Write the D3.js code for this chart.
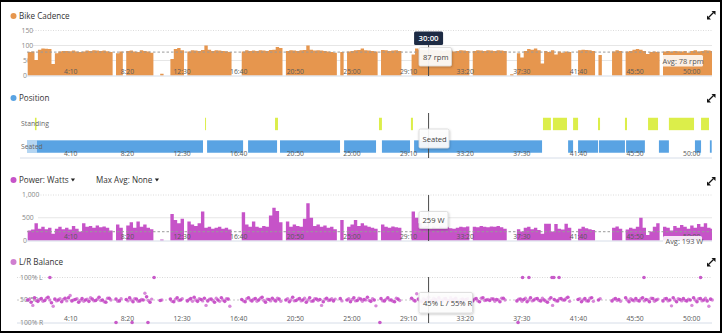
<!DOCTYPE html>
<html><head><meta charset="utf-8">
<script src="https://cdn.jsdelivr.net/npm/d3@7"></script>
<style>body{margin:0;background:#fff}svg{display:block}</style>
</head><body>
<svg id="c" width="722" height="333"></svg>
<script>
// ---------- DATA ----------
const sampleStart = 30, sampleStep = 15;          // seconds
const timeTicks = [250,500,750,1000,1250,1500,1750,2000,2250,2500,2750,3000];
const cadenceTicks = [0,50,100,150];
const powerTicks = [0,500,1000];
const balanceTickValues = [100,50,0];
const balanceTickLabels = ["100% L","50/50","100% R"];
const avgCadence = 78, avgPower = 193;
const cursorTime = 1800, cursorCadence = 87, cursorPower = 259, cursorPosition = "Seated", cursorLeft = 45;

const cadence = [
78,80,52,86,90,89,88,38,74,80, 82,82,81,83,80,78,80,83,82,84,
83,82,83,81,78,0,74,80,0,82, 83,80,78,84,82,80,76,0,0,6,
0,0,55,88,92,84,0,80,84,83, 82,85,100,86,82,84,83,82,81,78,
0,0,0,80,84,82,83,82,84,83, 82,85,86,95,92,0,82,84,83,82,
84,85,100,86,83,84,83,82,80,78, 76,0,78,0,80,82,84,85,90,84,
83,82,80,0,85,84,82,83,84,82, 0,0,0,70,90,86,85,84,87,85,
84,83,82,84,83,80,82,84,83,82, 0,82,84,83,82,84,83,82,84,83,
82,0,4,0,74,60,82,88,86,90, 84,40,82,78,84,70,80,76,80,78,
0,0,84,86,85,84,82,0,68,0, 0,0,80,84,82,0,80,82,86,88,
86,82,72,78,80,78,0,80,82,80, 82,81,80,82,76,82,84,80,82,84,
83,82];

const power = [
220,240,380,260,300,250,280,150,260,300, 250,280,240,320,260,200,380,300,320,280,
330,290,310,280,220,0,350,280,0,330, 400,280,420,300,350,280,250,0,0,20,
0,0,580,450,380,480,0,420,350,320, 380,640,280,300,260,280,300,260,280,240,
0,0,0,620,350,300,420,300,280,320, 300,550,720,650,400,0,420,300,350,320,
300,480,820,500,320,350,300,330,280,300, 250,0,450,0,300,350,450,320,380,330,
300,280,260,0,350,300,280,310,290,280, 0,0,0,640,500,380,300,320,260,300,
280,310,290,300,270,260,280,300,290,310, 0,300,290,320,300,290,310,300,320,290,
260,0,0,0,250,200,280,300,250,280, 230,150,370,370,200,360,260,240,370,280,
0,0,260,300,270,250,230,0,0,0, 0,0,280,310,260,0,240,280,260,300,
500,280,120,200,300,380,0,300,280,220, 320,280,340,300,260,330,280,360,300,380,
280,260];

const _ = null;
const balanceA = [
50,45,55,47,53,49,56,44,52,50, 46,54,55,48,51,45,53,50,47,52,
49,56,50,45,54,_,52,48,_,51, 55,46,52,48,50,57,45,_,_,49,
_,_,52,46,55,50,_,48,53,56, 47,51,54,48,52,45,50,55,47,52,
_,_,_,51,46,55,48,53,50,56, 45,51,54,48,52,_,50,46,56,49,
53,50,45,55,48,52,51,46,54,50, 48,_,53,_,50,46,55,49,52,51,
56,47,50,_,53,48,55,50,46,52, _,_,_,54,48,52,46,50,56,49,
51,55,47,53,48,50,54,45,52,51, _,48,53,46,55,50,49,52,51,46,
54,_,_,_,48,52,51,46,55,50, 53,48,50,45,55,51,48,53,50,56,
_,_,51,46,53,48,55,_,50,_, _,_,48,53,51,_,55,46,50,53,
48,55,51,46,53,50,_,48,53,50, 55,46,51,53,48,50,55,46,53,50,
48,52];
const balanceB = [
52,38,49,51,47,54,50,36,48,53, 51,48,60,50,53,49,47,52,55,48,
52,49,46,54,50,_,47,53,_,48, 50,53,47,51,65,49,52,_,_,50,
_,_,47,52,49,53,_,51,47,50, 53,48,38,52,49,54,47,50,53,36,
_,_,_,48,53,50,52,47,54,49, 52,48,50,54,47,_,53,50,48,52,
48,54,50,47,53,49,38,52,49,53, 52,_,48,_,53,51,48,54,47,50,
49,53,37,_,48,52,50,47,54,49, _,_,_,50,64,48,53,50,47,54,
48,50,53,49,55,52,48,51,49,53, _,52,48,54,49,51,53,47,50,54,
50,_,_,_,52,47,54,50,48,53, 49,54,47,52,38,48,53,50,54,47,
_,_,53,50,48,54,47,_,53,_, _,_,52,49,47,_,50,53,48,49,
53,48,50,54,47,52,_,53,48,37, 50,53,48,49,52,38,50,53,48,54,
36,50];
const balanceOutliers = [[128,100],[588,100],[2215,100],[2243,100],[2345,100],[2353,100],[2376,100],[2751,100],[3001,100],
                         [420,0],[491,0],[561,0],[1585,0],[2195,0]];

const seated = [[27,804],[822,981],[1003,1131],[1144,1409],[1427,1568],[1594,1718],[1736,2301],[2416,2438],
                [2460,2548],[2552,2667],[2672,2755],[2817,2861],[2976,3003],[3042,3050]];
const standing = [[62,69],[813,817],[1122,1135],[1581,1594],[1722,1731],[2305,2340],[2349,2411],[2438,2460],
                  [2548,2557],[2667,2676],[2769,2813],[2861,2972],[3003,3038]];

// ---------- SETUP ----------
const FONT = '"Open Sans", "Noto Sans", sans-serif';
const svg = d3.select("#c").style("font-family", FONT);
const x = d3.scaleLinear().domain([0,3050]).range([20.9,711.7]);
const PL = 27, PR = 712;
const C_CAD = "#e6964e", C_BLUE = "#59a3e3", C_YEL = "#dcee4a", C_PWR = "#c653c8", C_BAL = "#c446c4";
const fmt = t => Math.floor(t/60) + ":" + String(t%60).padStart(2,"0");
const toSeries = arr => {
  const s = arr.map((v,i)=>({t: sampleStart + sampleStep*i, v}));
  s.push({t: sampleStart + sampleStep*arr.length, v: arr[arr.length-1]});
  return s;
};

svg.append("defs").append("clipPath").attr("id","plotclip")
  .append("rect").attr("x",PL).attr("y",0).attr("width",PR-PL).attr("height",333);
svg.select("defs").append("filter").attr("id","sh").attr("x","-20%").attr("y","-20%").attr("width","150%").attr("height","160%")
  .append("feDropShadow").attr("dx",0.5).attr("dy",1).attr("stdDeviation",0.8).attr("flood-color","#000").attr("flood-opacity",0.25);

function hline(y, x1, x2, stroke, dash, w) {
  svg.append("line").attr("x1",x1).attr("x2",x2).attr("y1",y).attr("y2",y)
    .attr("stroke",stroke).attr("stroke-width",w||1).attr("stroke-dasharray",dash||null);
}
function title(y, color, txt, xp) {
  if (xp === undefined) svg.append("circle").attr("cx",13.5).attr("cy",y-3).attr("r",3).attr("fill",color);
  return svg.append("text").attr("x",xp===undefined?19:xp).attr("y",y).attr("font-size",8.1).attr("fill","#333").text(txt);
}
function caretAfter(t, y) {
  const b = t.node().getBBox();
  const xp = b.x + b.width + 2;
  svg.append("path").attr("d",`M${xp},${y-4.6}h4.2l-2.1,3z`).attr("fill","#222");
}
function expandIcon(cx, cy) {
  const g = svg.append("g").attr("fill","#111");
  g.append("path").attr("d",`M${cx+0.5},${cy-4}h4v4z`);
  g.append("path").attr("d",`M${cx-4},${cy+0.5}v4h4z`);
  g.append("line").attr("x1",cx-2.5).attr("y1",cy+2.5).attr("x2",cx+2.5).attr("y2",cy-2.5).attr("stroke","#111").attr("stroke-width",1.2);
}
function timeTickLabels(yBase) {
  svg.append("g").selectAll("text").data(timeTicks).join("text")
    .attr("x", d=>x(d)).attr("y", yBase).attr("text-anchor","end")
    .attr("font-size",6.8).attr("fill","#5a5a5a").text(fmt);
}
function yLabel(xp, y, txt) {
  svg.append("text").attr("x",xp).attr("y",y+2.4).attr("font-size",6.8).attr("fill","#888").text(txt);
}
function tooltip(x0, y0, w, h, txt, tx, ty) {
  svg.append("rect").attr("x",x0).attr("y",y0).attr("width",w).attr("height",h).attr("rx",1.5)
    .attr("fill","#fff").attr("fill-opacity",0.9).attr("stroke","#d8d8d8").attr("stroke-width",0.8).attr("filter","url(#sh)");
  svg.append("text").attr("x",tx).attr("y",ty).attr("font-size",7.6).attr("fill","#444").text(txt);
}
function avgLabel(x0, y0, w, h, txt, ty) {
  svg.append("rect").attr("x",x0).attr("y",y0).attr("width",w).attr("height",h).attr("rx",1.5)
    .attr("fill","#fff").attr("fill-opacity",0.85);
  svg.append("text").attr("x",x0+2.5).attr("y",ty).attr("font-size",7.4).attr("fill","#555").text(txt);
}
const cursorX = x(cursorTime);
function cursor(y1, y2) {
  svg.append("line").attr("x1",cursorX).attr("x2",cursorX).attr("y1",y1).attr("y2",y2).attr("stroke","#4a4a4a").attr("stroke-width",1);
}

// ---------- CADENCE ----------
title(19, C_CAD, "Bike Cadence");
expandIcon(711, 15);
const yC = d3.scaleLinear().domain([0,150]).range([75.5,30.5]);
cadenceTicks.forEach(v => {
  if (v > 0) hline(yC(v), 33, PR, v===150 ? "#dcdcdc" : "#e6e6e6", v===150 ? "1,1.5" : null);
  yLabel(v===150||v===100 ? 21.5 : 23, yC(v), v);
});
svg.append("path").datum(toSeries(cadence)).attr("clip-path","url(#plotclip)")
  .attr("fill",C_CAD)
  .attr("d", d3.area().curve(d3.curveStepAfter).x(d=>x(d.t)).y0(yC(0)).y1(d=>yC(d.v)));
hline(yC(avgCadence), PL, PR, "#9a9a9a", "2.5,2", 1);
hline(76, PL, PR, "#d6dde8");
timeTickLabels(73.8);
avgLabel(660, 55, 43, 11.5, "Avg: " + avgCadence + " rpm", 63.8);
cursor(45, 76);
svg.append("rect").attr("x",cursorX-14.5).attr("y",31.5).attr("width",29).attr("height",13.5).attr("rx",1.5).attr("fill","#1d2b44");
svg.append("text").attr("x",cursorX).attr("y",41.2).attr("text-anchor","middle").attr("font-size",7.8).attr("font-weight",600).attr("fill","#fff").text(fmt(cursorTime));
tooltip(419, 47.5, 32.5, 18.5, cursorCadence + " rpm", 423, 60.2);

// ---------- POSITION ----------
title(101, C_BLUE, "Position");
expandIcon(711, 98);
const yPos = d3.scaleBand().domain(["Standing","Seated"]).range([115.5,155]).paddingInner(0.45).paddingOuter(0.1);
svg.append("g").selectAll("rect").data(standing).join("rect")
  .attr("x", d=>x(d[0])).attr("width", d=>Math.max(1, x(d[1])-x(d[0])))
  .attr("y", yPos("Standing")).attr("height", yPos.bandwidth()).attr("fill", C_YEL);
svg.append("g").selectAll("rect").data(seated).join("rect")
  .attr("x", d=>x(d[0])).attr("width", d=>Math.max(1, x(d[1])-x(d[0])))
  .attr("y", yPos("Seated")).attr("height", yPos.bandwidth()).attr("fill", C_BLUE);
svg.append("text").attr("x",21).attr("y",yPos("Standing")+yPos.bandwidth()/2+2.4).attr("font-size",6.8).attr("fill","#666").text("Standing");
svg.append("rect").attr("x",20).attr("y",yPos("Seated")).attr("width",17).attr("height",yPos.bandwidth()).attr("fill","#fff").attr("fill-opacity",0.55);
svg.append("text").attr("x",21).attr("y",yPos("Seated")+yPos.bandwidth()/2+2.4).attr("font-size",6.8).attr("fill","#666").text("Seated");
hline(158, 20, PR, "#d6dde8");
timeTickLabels(156);
cursor(113, 158);
tooltip(419, 129, 30, 19, cursorPosition, 422.5, 141.5);

// ---------- POWER ----------
const pt = title(183, C_PWR, "Power: Watts");
caretAfter(pt, 183);
const mt = title(183, null, "Max Avg: None", 96);
caretAfter(mt, 183);
expandIcon(711, 181);
const yW = d3.scaleLinear().domain([0,1000]).range([240.5,195]);
powerTicks.forEach(v => {
  if (v > 0) hline(yW(v), 38, PR, v===1000 ? "#dcdcdc" : "#e6e6e6", v===1000 ? "1,1.5" : null);
  yLabel(v===0 ? 23 : 22, yW(v), d3.format(",")(v));
});
svg.append("path").datum(toSeries(power)).attr("clip-path","url(#plotclip)")
  .attr("fill",C_PWR)
  .attr("d", d3.area().curve(d3.curveStepAfter).x(d=>x(d.t)).y0(yW(0)).y1(d=>yW(d.v)));
hline(yW(avgPower), PL, PR, "#9a9a9a", "2.5,2", 1);
hline(241, PL, PR, "#d6dde8");
timeTickLabels(238.5);
avgLabel(663, 236, 39, 9.5, "Avg: " + avgPower + " W", 243.8);
cursor(195, 241);
tooltip(419, 211.5, 29, 17, cursorPower + " W", 422.5, 223.2);

// ---------- L/R BALANCE ----------
title(265, "#cf7fd0", "L/R Balance");
expandIcon(711, 262);
const yB = d3.scaleLinear().domain([0,100]).range([322.5,277.5]);
balanceTickValues.forEach((v,i) => {
  if (v === 100) hline(yB(v), 17, PR, "#d8d8d8", "1,1.5");
  else if (v === 50) hline(yB(v), 17, PR, "#c8c8c8", "2,2");
  else hline(323, 17, PR, "#d6dde8");
  yLabel(20, yB(v), balanceTickLabels[i]);
});
const balPts = (arr, off) => arr.map((v,i)=>({t: sampleStart + off + sampleStep*i, v})).filter(d=>d.v!==null);
svg.append("g").selectAll("circle").data(balPts(balanceB, 7.5)).join("circle")
  .attr("cx", d=>x(d.t)).attr("cy", d=>yB(d.v)).attr("r",1.7).attr("fill","#d173d2").attr("fill-opacity",0.85);
svg.append("g").selectAll("circle").data(balPts(balanceA, 0)).join("circle")
  .attr("cx", d=>x(d.t)).attr("cy", d=>yB(d.v)).attr("r",1.8).attr("fill",C_BAL).attr("fill-opacity",0.9);
svg.append("g").selectAll("circle").data(balanceOutliers).join("circle")
  .attr("cx", d=>x(d[0])).attr("cy", d=>yB(d[1])).attr("r",1.8).attr("fill","#c85ac9");
timeTickLabels(320.8);
cursor(277, 323);
tooltip(419, 292.5, 53.5, 20.5, cursorLeft + "% L / " + (100-cursorLeft) + "% R", 423, 305.5);

// ---------- FRAME ----------
svg.append("rect").attr("x",0).attr("y",0).attr("width",722).attr("height",2).attr("fill","#000");
svg.append("rect").attr("x",0).attr("y",331).attr("width",722).attr("height",2).attr("fill","#000");
svg.append("rect").attr("x",0).attr("y",0).attr("width",1).attr("height",333).attr("fill","#000");
svg.append("rect").attr("x",720).attr("y",0).attr("width",2).attr("height",333).attr("fill","#000");
</script>
</body></html>
